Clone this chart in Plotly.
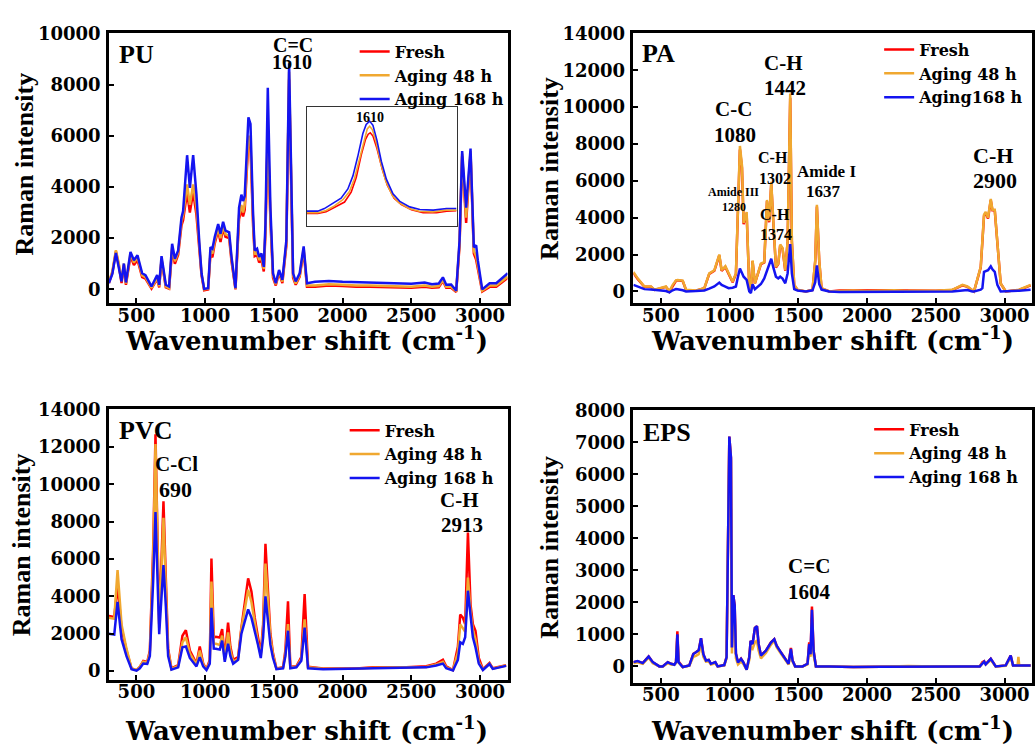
import plotly.graph_objects as go

W, H = 1035, 746

# ---------------- data ----------------
# PU
pu_x = [300, 325, 351, 372, 392, 409, 424, 457, 482, 508, 542, 566, 610, 651, 666, 683, 714, 738, 760, 780,
        804, 828, 840, 869, 889, 913, 937, 957, 974, 993, 1022, 1039, 1053, 1070, 1095, 1112, 1131, 1148, 1175, 1192,
        1221, 1247, 1264, 1276, 1288, 1315, 1330, 1349, 1361, 1378, 1393, 1410, 1427, 1439, 1456, 1475, 1494, 1514, 1538, 1562,
        1591, 1611, 1625, 1640, 1659, 1688, 1717, 1741, 1800, 1900, 2000, 2100, 2200, 2300, 2400, 2500, 2597, 2650, 2700, 2730,
        2754, 2790, 2827, 2851, 2870, 2899, 2931, 2955, 2972, 2984, 3016, 3070, 3118, 3202]
pu_168h = [250, 600, 1420, 900, 310, 1010, 270, 1460, 1140, 1330, 630, 560, 115, 560, 180, 1300, 180, 115, 1780, 1200,
           1520, 2800, 3060, 5240, 3960, 5240, 3700, 1900, 630, 20, 50, 1650, 1590, 2040, 2550, 2170, 2640, 2300, 2230, 1270,
           50, 3190, 3700, 3450, 3640, 6720, 6460, 2940, 1520, 1590, 1270, 1400, 880, 2550, 7870, 3190, 630, 240, 760, 370,
           1910, 8830, 4000, 630, 310, 630, 1680, 240, 300, 330, 300, 280, 270, 260, 240, 220, 270, 200, 230, 470,
           180, 190, -50, 1900, 5400, 3190, 5500, 1650, 1720, 1140, 0, 240, 240, 630]
pu_48h = [300, 700, 1530, 1000, 320, 1000, 230, 1400, 1050, 1250, 550, 480, 60, 450, 120, 1200, 120, 50, 1650, 1100,
          1450, 2650, 2900, 4100, 3300, 4100, 3200, 1800, 600, 0, 30, 1500, 1400, 1900, 2400, 2000, 2500, 2150, 2100, 1200,
          30, 2900, 3300, 3000, 3300, 6000, 5800, 2700, 1400, 1450, 1150, 1250, 800, 2300, 6300, 2800, 550, 200, 700, 300,
          1800, 8500, 3800, 550, 230, 550, 1600, 150, 150, 200, 180, 150, 150, 130, 120, 100, 150, 100, 130, 380,
          100, 100, -80, 1800, 5300, 2800, 5400, 1500, 1300, 900, -50, 150, 150, 500]
pu_fresh = [250, 650, 1480, 950, 250, 950, 180, 1300, 950, 1150, 480, 420, 30, 400, 80, 1150, 80, 30, 1550, 1000,
            1350, 2500, 2700, 3800, 3000, 3800, 2900, 1700, 550, -30, 0, 1400, 1250, 1800, 2300, 1850, 2400, 2050, 2000, 1100,
            0, 2750, 3100, 2850, 3100, 5800, 5600, 2500, 1300, 1350, 1050, 1150, 700, 2200, 6100, 2700, 450, 150, 650, 250,
            1700, 8200, 3600, 450, 180, 500, 1500, 100, 100, 150, 130, 100, 100, 80, 70, 60, 100, 60, 80, 330,
            60, 60, -100, 1700, 5200, 2600, 5300, 1400, 1150, 800, -80, 100, 100, 450]

# PU inset (C=C band around 1610)
ins_x_fresh = [1570, 1577, 1582.3, 1588.7, 1594, 1598.2, 1601.4, 1604.6, 1607.3, 1609, 1610.3, 1612, 1614.5, 1617.9,
               1621.1, 1625.4, 1630, 1636.4, 1643.8, 1652.3, 1658.7, 1665]
ins_y_fresh = [-60, -60, 90, 560, 1020, 1950, 3340, 5510, 6970, 7460, 7590, 7280, 6130, 4120, 2630, 1390, 770, 280,
               0, 0, 150, 190]
ins_x_48h = [1570, 1577, 1582.3, 1587.6, 1592.9, 1597.1, 1600.3, 1603.5, 1606.7, 1608.4, 1609.9, 1611.6, 1614.1, 1616.9,
             1620.1, 1624.3, 1628.5, 1634.9, 1641.3, 1649.7, 1658.2, 1665]
ins_y_48h = [0, 0, 220, 650, 1240, 2010, 3250, 5200, 7210, 7960, 8210, 7900, 6660, 4740, 3030, 1640, 960, 400, 150,
             90, 250, 250]
ins_x_168h = [1570, 1577, 1581.2, 1585.5, 1591.8, 1596.1, 1599.3, 1602.4, 1605.6, 1607.7, 1609.9, 1612, 1614.5, 1617.3,
              1620.5, 1624.7, 1629, 1635.3, 1641.7, 1650.2, 1658.6, 1665]
ins_y_168h = [155, 155, 400, 770, 1390, 2260, 3500, 5360, 7520, 8390, 8700, 8300, 6900, 4890, 3190, 1800, 1080, 560,
              310, 250, 400, 400]

# PA
pa_x = [300, 331, 380, 428, 453, 501, 537, 562, 586, 610, 622, 659, 683, 755, 816, 852, 889, 925, 942, 969,
        993, 1022, 1046, 1058, 1075, 1090, 1102, 1124, 1135, 1143, 1155, 1167, 1184, 1204, 1228, 1252, 1272, 1288, 1303, 1318,
        1337, 1354, 1368, 1385, 1405, 1422, 1441, 1453, 1470, 1494, 1555, 1603, 1623, 1635, 1652, 1669, 1725, 1800, 1900, 2000,
        2100, 2200, 2300, 2400, 2500, 2621, 2694, 2730, 2766, 2778, 2827, 2839, 2851, 2863, 2880, 2900, 2912, 2929, 2948, 2972,
        3009, 3106, 3190]
pa_48h = [1060, 710, 270, 270, 90, 180, 270, 0, 360, 600, 620, 590, 90, 50, 180, 980, 1150, 2000, 1150, 1370,
          980, 530, 980, 3810, 7890, 6830, 3720, 4300, 1500, 270, 90, 1680, 440, 980, 1510, 1600, 4960, 3810, 5940, 3810,
          1330, 1510, 2540, 2360, 1150, 2750, 10730, 2750, 360, 90, 0, 90, 1680, 4700, 1680, 180, 0, 30, 50, 20,
          40, 60, 30, 20, 40, 90, 360, 270, 30, 0, 1330, 2500, 4170, 4310, 3990, 5020, 4430, 4430, 2750, 440,
          0, 90, 360]
pa_fresh = [1000, 680, 250, 250, 80, 170, 250, 0, 330, 580, 600, 560, 80, 40, 170, 950, 1120, 1950, 1120, 1330,
            950, 500, 950, 3700, 7700, 6700, 3650, 4200, 1450, 260, 80, 1650, 430, 950, 1480, 1570, 4900, 3750, 5850, 3750,
            1300, 1480, 2500, 2320, 1120, 2700, 10500, 2700, 340, 80, 0, 80, 1650, 4600, 1650, 170, 0, 50, 60, 60,
            80, 70, 50, 30, 40, 80, 330, 250, 30, 0, 1300, 2450, 4100, 4250, 3950, 4950, 4400, 4400, 2700, 430,
            0, 80, 330]
pa_168h = [355, 250, 124, 100, 89, 60, 20, -53, 60, 124, 120, 60, 0, 20, 53, 150, 266, 479, 350, 266,
           177, 200, 266, 700, 1240, 1000, 798, 621, 300, 0, -89, 390, 124, 250, 400, 709, 1152, 1500, 1773, 1300,
           800, 709, 798, 700, 443, 975, 2571, 975, 124, 50, 0, 60, 500, 1418, 400, 100, 0, -30, -30, -40,
           -20, 0, -20, -20, 0, 0, 50, 80, 0, 0, 100, 177, 1064, 1100, 1152, 1365, 1200, 1064, 355, 0,
           0, 40, 89]

# PVC
pvc_x = [300, 339, 363, 380, 392, 428, 465, 501, 525, 550, 579, 598, 610, 622, 639, 651, 666, 683, 697, 714,
         731, 755, 804, 835, 860, 889, 913, 937, 961, 986, 1010, 1034, 1046, 1063, 1078, 1107, 1124, 1143, 1167, 1184,
         1204, 1240, 1264, 1288, 1313, 1337, 1361, 1385, 1405, 1422, 1439, 1458, 1475, 1494, 1519, 1567, 1584, 1603, 1620, 1664,
         1700, 1724, 1749, 1858, 2100, 2221, 2463, 2609, 2681, 2730, 2754, 2803, 2839, 2856, 2875, 2892, 2912, 2931, 2948, 2967,
         2991, 3021, 3069, 3093, 3190]
pvc_fresh = [2950, 2890, 4600, 3000, 2300, 1100, 140, 50, 230, 540, 490, 1100, 3560, 6540, 12680, 7770, 2510, 6000, 9090, 5000,
             1200, 140, 320, 1890, 2190, 1100, 750, 400, 1320, 400, 100, 600, 6020, 1800, 1840, 1800, 2250, 700, 2600, 1300,
             600, 750, 2330, 3560, 4960, 4260, 2860, 1800, 950, 2500, 6810, 4200, 2000, 950, 140, 200, 1100, 3740, 230, 260,
             750, 4120, 230, 140, 140, 200, 200, 260, 400, 610, 250, 50, 1300, 3030, 2860, 2510, 7420, 3560, 2510, 2160,
             700, 100, 440, 150, 320]
pvc_48h = [2850, 2800, 5400, 3500, 2500, 1200, 140, 50, 230, 500, 450, 1000, 3300, 6000, 12150, 7000, 2300, 5500, 8210, 4500,
           1100, 120, 280, 1540, 1810, 950, 650, 350, 1100, 350, 80, 500, 4790, 1500, 1460, 1400, 1900, 600, 2070, 1100,
           500, 650, 2250, 3390, 4350, 3700, 2500, 1500, 850, 2200, 5750, 3600, 1800, 850, 120, 180, 900, 2510, 200, 230,
           650, 2770, 200, 120, 130, 180, 180, 220, 350, 500, 200, 50, 1000, 2500, 2300, 2100, 5000, 3200, 2200, 1700,
           500, 80, 400, 130, 300]
pvc_168h = [2000, 1950, 3700, 2300, 1700, 800, 100, 20, 150, 400, 380, 800, 2500, 4800, 8510, 5500, 1980, 4000, 5670, 3500,
            800, 80, 200, 1280, 1320, 700, 450, 250, 750, 250, 50, 400, 3390, 1200, 1190, 1150, 1630, 500, 1460, 800,
            400, 600, 2000, 2680, 3300, 2860, 2160, 1400, 700, 1800, 4000, 2600, 1400, 700, 100, 150, 800, 2160, 150, 200,
            550, 2330, 150, 100, 120, 160, 160, 200, 300, 400, 150, 30, 600, 1540, 1460, 1810, 4300, 2860, 1810, 1280,
            400, 60, 380, 120, 280]

# EPS
eps_x = [300, 331, 368, 411, 441, 489, 513, 550, 574, 598, 610, 620, 629, 659, 707, 736, 755, 775, 792, 809,
         828, 848, 864, 896, 913, 961, 978, 998, 1010, 1017, 1027, 1037, 1046, 1061, 1083, 1099, 1124, 1143, 1153, 1167,
         1184, 1199, 1211, 1228, 1264, 1301, 1325, 1342, 1373, 1410, 1429, 1446, 1458, 1477, 1531, 1567, 1579, 1589, 1599, 1611,
         1628, 1725, 1900, 2100, 2300, 2500, 2700, 2820, 2839, 2852, 2863, 2900, 2936, 3009, 3045, 3062, 3095, 3101, 3107, 3190]
eps_fresh = [130, 160, 100, 310, 130, 0, 0, 130, 80, 60, 130, 1100, 150, -20, 30, 390, 440, 500, 880, 380,
             180, 200, 80, 130, 0, 40, 300, 7185, 6520, 590, 2230, 1900, 400, 120, 240, 130, -100, 290, 800, 700,
             1200, 1260, 700, 340, 490, 750, 850, 650, 440, 180, 80, 580, 180, 0, 0, 80, 750, 400, 1870, 500,
             0, 0, -20, -10, 0, 10, 0, 0, 130, 160, 70, 240, 0, 30, 340, 30, 30, 40, 30, 30]
eps_48h = [100, 130, 80, 270, 100, 0, -10, 100, 60, 50, 100, 900, 120, -20, 20, 300, 330, 380, 700, 300,
           150, 160, 60, 100, 0, 30, 250, 7100, 6400, 400, 1900, 1600, 250, 60, 150, 80, -100, 200, 600, 550,
           750, 800, 500, 250, 420, 680, 800, 600, 400, 160, 60, 450, 150, 0, 0, 60, 550, 300, 1400, 350,
           0, 0, -20, -10, 10, 0, 0, 0, 100, 130, 60, 200, 0, 20, 280, 30, 30, 300, 30, 30]
eps_168h = [133, 164, 102, 307, 133, 0, 0, 133, 82, 50, 130, 1000, 130, -20, 30, 388, 440, 500, 879, 380,
            184, 200, 80, 133, 0, 40, 280, 7185, 6520, 593, 2228, 1900, 400, 120, 235, 130, -102, 286, 797, 695,
            1206, 1257, 700, 337, 490, 746, 848, 644, 440, 184, 80, 542, 180, 0, 0, 80, 695, 380, 1768, 480,
            0, 0, -20, -10, 0, 0, 0, 0, 110, 150, 60, 235, 0, 30, 337, 30, 30, 40, 30, 30]

x_ticks = [500, 1000, 1500, 2000, 2500, 3000]

RED, ORANGE, BLUE = "#FF0000", "#F0A830", "#1414F0"
TICKFONT = dict(family="DejaVu Serif", size=18, color="black", weight="bold")
SERIF = "Liberation Serif"


def px_x(p):
    return p / W


def px_y(p):
    return 1 - p / H


fig = go.Figure()

panels = [
    ("x", "y", "legend", pu_x, [(pu_fresh, "Fresh", RED), (pu_48h, "Aging 48 h", ORANGE), (pu_168h, "Aging 168 h", BLUE)]),
    ("x2", "y2", "legend2", pa_x, [(pa_fresh, "Fresh", RED), (pa_48h, "Aging 48 h", ORANGE), (pa_168h, "Aging168 h", BLUE)]),
    ("x3", "y3", "legend3", pvc_x, [(pvc_fresh, "Fresh", RED), (pvc_48h, "Aging 48 h", ORANGE), (pvc_168h, "Aging 168 h", BLUE)]),
    ("x4", "y4", "legend4", eps_x, [(eps_fresh, "Fresh", RED), (eps_48h, "Aging 48 h", ORANGE), (eps_168h, "Aging 168 h", BLUE)]),
]
for xa, ya, lg, xs, series in panels:
    for ys, name, col in series:
        fig.add_trace(go.Scatter(x=xs, y=ys, mode="lines", name=name, xaxis=xa, yaxis=ya, legend=lg,
                                 line=dict(color=col, width=2.5), legendgroup=lg + name))

# inset traces
for xs, ys, col in [(ins_x_fresh, ins_y_fresh, RED), (ins_x_48h, ins_y_48h, ORANGE), (ins_x_168h, ins_y_168h, BLUE)]:
    fig.add_trace(go.Scatter(x=xs, y=ys, mode="lines", xaxis="x5", yaxis="y5", showlegend=False,
                             line=dict(color=col, width=1.6)))

# geometry (pixels)
LX = (109, 508)
RX = (634, 1033)
TY = (22.7, 297)
BY = (405, 680)


def xdom(a):
    return [px_x(a[0]), px_x(a[1])]


def ydom(a):
    return [px_y(a[1]), px_y(a[0])]


def xaxis_cfg(dom, anchor):
    return dict(domain=dom, anchor=anchor, range=[300, 3200], tickvals=x_ticks, showline=True, mirror=True,
                linecolor="black", linewidth=2.5, ticks="inside", ticklen=5, tickwidth=2, tickcolor="black",
                showgrid=False, zeroline=False, tickfont=TICKFONT, ticklabelstandoff=-6, tickformat="d")


def yaxis_cfg(dom, anchor, rng, dt):
    return dict(domain=dom, anchor=anchor, range=rng, dtick=dt, tick0=0, showline=True, mirror=True,
                linecolor="black", linewidth=2.5, ticks="inside", ticklen=5, tickwidth=2, tickcolor="black",
                showgrid=False, zeroline=False, tickfont=TICKFONT, ticklabelstandoff=2, tickformat="d")


legend_font = dict(family="DejaVu Serif", size=16, color="black", weight="bold")


def legend_cfg(xp, yp):
    return dict(x=px_x(xp), y=px_y(yp), xanchor="left", yanchor="top", bgcolor="rgba(0,0,0,0)",
                font=legend_font, tracegroupgap=0, itemwidth=30)


annotations = []


def ann(text, cx, cy, size, xanchor="center", family=SERIF, angle=0):
    annotations.append(dict(text=text, x=px_x(cx), y=px_y(cy), xref="paper", yref="paper", showarrow=False,
                            xanchor=xanchor, yanchor="middle", textangle=angle,
                            font=dict(family=family, size=size, color="black", weight="bold")))


# panel names
ann("PU", 117, 44, 26, "left")
ann("PA", 641, 43, 26, "left")
ann("PVC", 117, 426, 26, "left")
ann("EPS", 642, 428, 26, "left")
# PU labels
ann("C=C", 293, 35, 20)
ann("1610", 292, 52, 20)
ann("1610", 370, 108, 14)
# PA labels
ann("C-H", 784, 53, 21)
ann("1442", 786, 78, 21)
ann("C-C", 734, 100, 21)
ann("1080", 736, 126, 21)
ann("Amide III", 734, 184, 12)
ann("1280", 735, 199, 12)
ann("C-H", 774, 149, 16)
ann("1302", 776, 170, 16)
ann("C-H", 776, 207, 16)
ann("1374", 777, 227, 16)
ann("Amide I", 827, 163, 17)
ann("1637", 824, 183, 17)
ann("C-H", 994, 147, 22)
ann("2900", 996, 172, 22)
# PVC labels
ann("C-Cl", 177, 460, 21)
ann("690", 176, 486, 22)
ann("C-H", 460, 497, 21)
ann("2913", 462, 522, 21)
# EPS labels
ann("C=C", 810, 564, 21)
ann("1604", 810, 590, 21)

# axis titles
xt = "Wavenumber shift (cm<sup>-1</sup>)"
ann(xt, 307, 333, 26, family="DejaVu Serif")
ann(xt, 833, 333, 26, family="DejaVu Serif")
ann(xt, 307, 730, 26, family="DejaVu Serif")
ann(xt, 833, 730, 26, family="DejaVu Serif")
ann("Raman intensity", 25, 155, 26, angle=-90)
ann("Raman intensity", 550, 160, 26, angle=-90)
ann("Raman intensity", 21, 542, 26, angle=-90)
ann("Raman intensity", 550, 545, 26, angle=-90)

fig.update_layout(
    width=W, height=H, margin=dict(l=0, r=0, t=0, b=0),
    paper_bgcolor="white", plot_bgcolor="white",
    xaxis=xaxis_cfg(xdom(LX), "y"), yaxis=yaxis_cfg(ydom(TY), "x", [-540, 10000], 2000),
    xaxis2=xaxis_cfg(xdom(RX), "y2"), yaxis2=yaxis_cfg(ydom(TY), "x2", [-640, 14000], 2000),
    xaxis3=xaxis_cfg(xdom(LX), "y3"), yaxis3=yaxis_cfg(ydom(BY), "x3", [-480, 14000], 2000),
    xaxis4=xaxis_cfg(xdom(RX), "y4"), yaxis4=yaxis_cfg(ydom((406, 683)), "x4", [-520, 8000], 1000),
    xaxis5=dict(domain=[px_x(307), px_x(457)], anchor="y5", range=[1570, 1665], showline=True, mirror=True,
                linecolor="#333333", linewidth=1, showticklabels=False, ticks="", showgrid=False, zeroline=False),
    yaxis5=dict(domain=[px_y(219), px_y(98)], anchor="x5", range=[-1300, 10000], showline=True, mirror=True,
                linecolor="#333333", linewidth=1, showticklabels=False, ticks="", showgrid=False, zeroline=False),
    legend=legend_cfg(355, 24),
    legend2=legend_cfg(880, 22),
    legend3=legend_cfg(345, 409),
    legend4=legend_cfg(870, 408),
    annotations=annotations,
    showlegend=True,
)

fig.write_html("out.html")
